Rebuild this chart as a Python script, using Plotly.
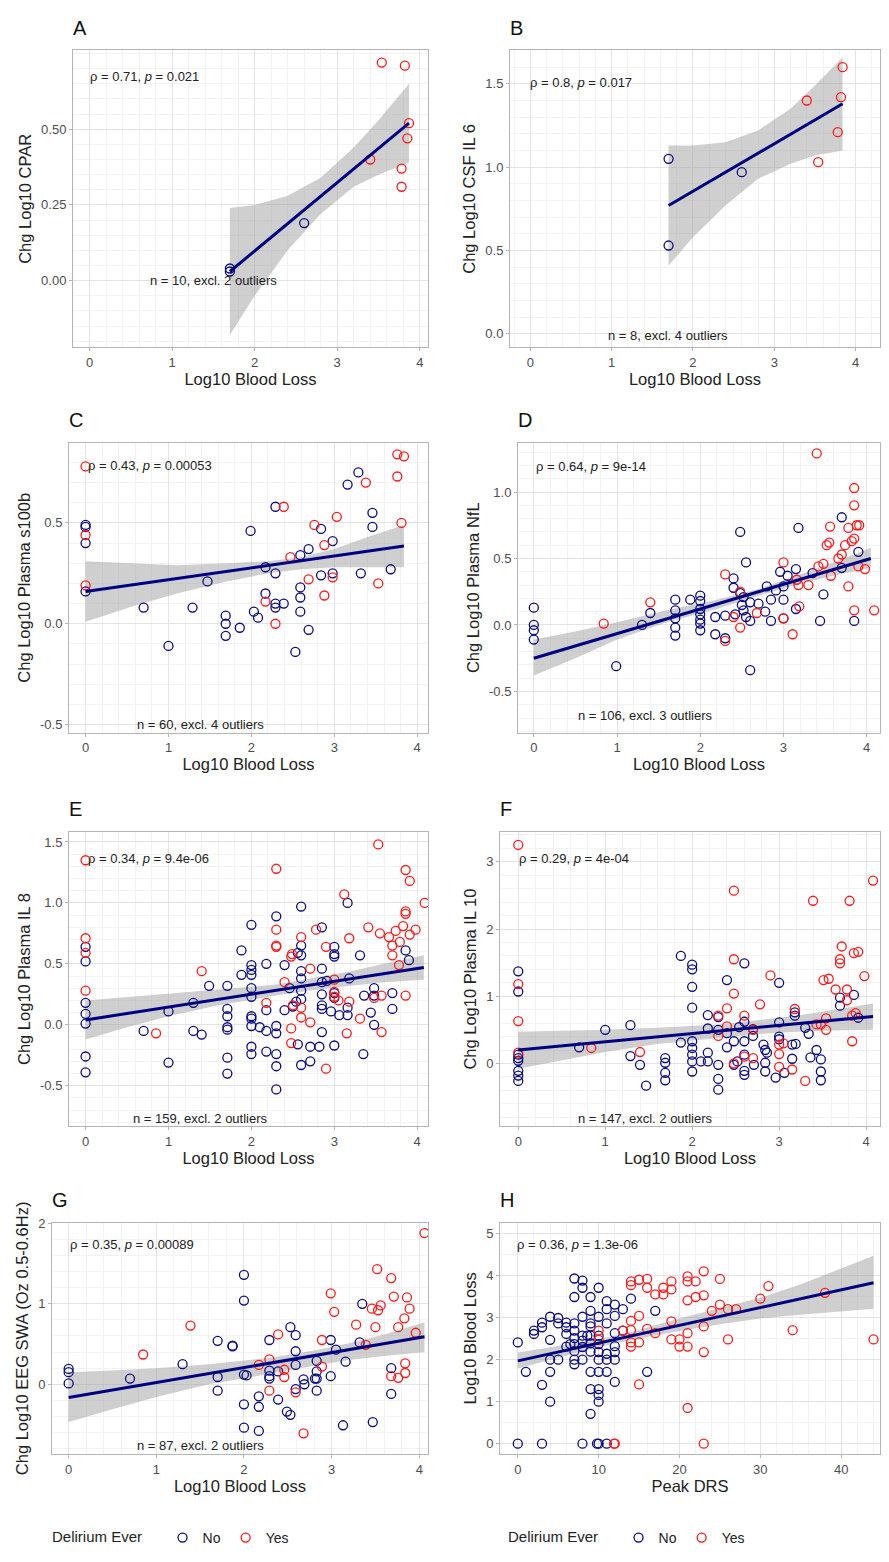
import plotly.graph_objects as go

W, H = 889, 1562
OFF = 8  # default page margin around the plot
FW, FH = W - 2 * OFF, H - 2 * OFF
NAVY = "#0b0b80"
RED = "#ff1a1a"

# ---------- data ----------
# A: Chg Log10 CPAR
a_no_x = [1.7, 1.7, 2.6]
a_no_y = [0.03, 0.04, 0.19]
a_yes_x = [3.4, 3.54, 3.82, 3.78, 3.78, 3.87, 3.85]
a_yes_y = [0.40, 0.72, 0.71, 0.37, 0.31, 0.52, 0.47]
a_band_x = [1.7, 2.0, 2.4, 2.8, 3.2, 3.5, 3.87]
a_band_lo = [-0.18, -0.05, 0.10, 0.22, 0.31, 0.35, 0.39]
a_band_hi = [0.24, 0.25, 0.28, 0.34, 0.44, 0.53, 0.65]
a_fit_x = [1.7, 3.87]
a_fit_y = [0.03, 0.52]

# B: Chg Log10 CSF IL 6
b_no_x = [1.7, 1.7, 2.6]
b_no_y = [1.05, 0.53, 0.97]
b_yes_x = [3.4, 3.54, 3.78, 3.82, 3.84]
b_yes_y = [1.40, 1.03, 1.21, 1.42, 1.60]
b_band_x = [1.7, 2.0, 2.4, 2.8, 3.2, 3.5, 3.84]
b_band_lo = [0.41, 0.58, 0.77, 0.93, 1.02, 1.07, 1.10]
b_band_hi = [1.13, 1.13, 1.15, 1.22, 1.35, 1.49, 1.66]
b_fit_x = [1.7, 3.84]
b_fit_y = [0.77, 1.38]

# C: Chg Log10 Plasma s100b
c_no_x = [0, 0, 0, 0, 0.7, 1.0, 1.29, 1.47, 1.69, 1.69, 1.69, 1.86, 1.99, 2.03, 2.08, 2.17, 2.17,
          2.29, 2.29, 2.29, 2.29, 2.39, 2.53, 2.59, 2.59, 2.59, 2.59, 2.69, 2.69, 2.84, 2.84, 2.98,
          2.98, 3.16, 3.29, 3.32, 3.46, 3.46, 3.68]
c_no_y = [0.49, 0.48, 0.40, 0.16, 0.08, -0.11, 0.08, 0.21, 0.04, 0.0, -0.06, -0.02, 0.46, 0.06, 0.03,
          0.28, 0.15, 0.58, 0.25, 0.10, 0.08, 0.10, -0.14, 0.34, 0.18, 0.13, 0.06, 0.37, -0.03, 0.24,
          0.47, 0.41, 0.25, 0.69, 0.75, 0.25, 0.55, 0.48, 0.27]
c_yes_x = [0, 0, 0, 2.17, 2.29, 2.39, 2.47, 2.69, 2.76, 2.88, 2.88, 2.98, 3.03, 3.38, 3.53, 3.76, 3.84,
           3.76, 3.81]
c_yes_y = [0.78, 0.44, 0.19, 0.11, 0.0, 0.58, 0.33, 0.22, 0.49, 0.39, 0.14, 0.23, 0.53, 0.70, 0.20,
           0.84, 0.83, 0.73, 0.50]
c_band_x = [0, 0.6, 1.1, 1.7, 2.2, 2.6, 3.0, 3.4, 3.84]
c_band_lo = [0.01, 0.09, 0.15, 0.21, 0.25, 0.27, 0.28, 0.28, 0.28]
c_band_hi = [0.31, 0.30, 0.29, 0.30, 0.31, 0.33, 0.37, 0.43, 0.49]
c_fit_x = [0, 3.84]
c_fit_y = [0.16, 0.385]

# D: Chg Log10 Plasma NfL
d_no_x = [0, 0, 0, 0, 0.99, 1.3, 1.4, 1.7, 1.7, 1.7, 1.7, 1.7, 1.88, 2.0, 2.0, 2.0, 2.0, 2.0, 2.0, 2.0,
          2.18, 2.18, 2.3, 2.3, 2.4, 2.4, 2.48, 2.48, 2.5, 2.52, 2.55, 2.55, 2.6, 2.6, 2.6, 2.7, 2.78,
          2.8, 2.85, 2.85, 2.91, 2.96, 3.0, 3.0, 3.0, 3.05, 3.15, 3.15, 3.18, 3.35, 3.44, 3.48, 3.7,
          3.7, 3.85, 3.9, 2.52, 2.42]
d_no_y = [0.13, 0.0, -0.04, -0.11, -0.31, 0.0, 0.09, 0.19, 0.11, 0.05, -0.02, -0.08, 0.19, 0.22, 0.18,
          0.12, 0.08, 0.04, 0.01, -0.04, 0.06, -0.07, 0.07, -0.10, 0.35, 0.28, 0.70, 0.24, 0.15, 0.11,
          0.47, 0.06, 0.17, 0.03, -0.34, 0.16, 0.10, 0.29, 0.19, 0.03, 0.26, 0.40, 0.19, 0.05, 0.29,
          0.37, 0.42, 0.12, 0.73, 0.39, 0.03, 0.23, 0.81, 0.43, 0.03, 0.55, 0.21, 0.08]
d_yes_x = [0.84, 1.4, 2.3, 2.3, 2.4, 2.48, 2.48, 2.68, 3.0, 3.0, 3.11, 3.16, 3.18, 3.19, 3.3, 3.4, 3.42,
           3.48, 3.56, 3.52, 3.55, 3.57, 3.66, 3.7, 3.74, 3.78, 3.78, 3.82, 3.85, 3.85, 3.85, 3.85,
           3.88, 3.91, 3.9, 3.98, 4.09]
d_yes_y = [0.01, 0.17, 0.38, -0.12, 0.06, 0.25, -0.02, 0.09, 0.47, 0.05, -0.07, 0.34, 0.30, 0.14, 0.30,
           1.29, 0.44, 0.46, 0.74, 0.60, 0.62, 0.37, 0.50, 0.53, 0.60, 0.73, 0.29, 0.63, 0.65, 0.90,
           1.03, 0.11, 0.75, 0.75, 0.44, 0.42, 0.11]
d_band_x = [0, 0.5, 1.0, 1.6, 2.2, 2.7, 3.2, 3.6, 4.05]
d_band_lo = [-0.38, -0.25, -0.11, 0.02, 0.12, 0.22, 0.31, 0.37, 0.43]
d_band_hi = [-0.11, -0.05, 0.02, 0.11, 0.19, 0.27, 0.38, 0.47, 0.58]
d_fit_x = [0, 4.05]
d_fit_y = [-0.25, 0.50]

# E: Chg Log10 Plasma IL 8
e_no_x = [0, 0, 0, 0, 0, 0, 0, 0.7, 1.0, 1.0, 1.3, 1.3, 1.4, 1.49, 1.71, 1.71, 1.71, 1.71, 1.71, 1.71,
          1.71, 1.88, 1.88, 2.0, 2.0, 2.0, 2.0, 2.0, 2.0, 2.0, 2.0, 2.0, 2.0, 2.0, 2.1, 2.18, 2.18, 2.18,
          2.18, 2.3, 2.3, 2.3, 2.3, 2.3, 2.3, 2.4, 2.4, 2.46, 2.5, 2.54, 2.56, 2.56, 2.6, 2.6, 2.6, 2.6,
          2.6, 2.6, 2.6, 2.6, 2.71, 2.71, 2.82, 2.85, 2.85, 2.85, 2.85, 2.85, 2.85, 2.85, 2.91, 2.96,
          3.0, 3.0, 3.0, 3.0, 3.0, 3.0, 3.06, 3.16, 3.18, 3.16, 3.16, 3.31, 3.35, 3.36, 3.44, 3.48, 3.48,
          3.48, 3.7, 3.7, 3.86, 3.9]
e_no_y = [0.64, 0.52, 0.18, 0.09, 0.01, -0.26, -0.39, -0.05, 0.11, -0.31, 0.18, -0.05, -0.08, 0.32,
          0.32, 0.13, 0.07, -0.02, -0.04, -0.27, -0.40, 0.61, 0.41, 0.49, 0.45, 0.41, 0.30, 0.23, 0.07,
          0.05, -0.01, -0.18, -0.24, 0.82, -0.02, 0.50, 0.12, -0.05, -0.22, 0.89, -0.01, -0.07, -0.24,
          -0.34, -0.53, 0.49, 0.12, 0.30, 0.15, 0.19, 0.59, -0.16, 0.97, 0.65, 0.57, 0.44, 0.38, 0.28,
          0.21, -0.33, -0.18, -0.30, -0.18, 0.80, 0.46, 0.35, 0.25, 0.16, 0.13, -0.06, 0.36, 0.11, 0.64,
          0.58, 0.56, 0.26, 0.22, -0.17, 0.08, 1.0, 0.38, 0.14, 0.08, 0.57, -0.24, 0.24, 0.10, 0.30,
          0.24, 0.0, 0.26, 0.13, 0.61, 0.53]
e_yes_x = [0, 0, 0, 0, 0.85, 1.4, 2.18, 2.3, 2.3, 2.3, 2.3, 2.4, 2.48, 2.49, 2.48, 2.48, 2.5, 2.6, 2.6,
           2.6, 2.71, 2.71, 2.78, 2.9, 2.9, 3.0, 3.0, 3.0, 3.05, 3.12, 3.15, 3.18, 3.18, 3.31, 3.41,
           3.48, 3.55, 3.53, 3.57, 3.57, 3.66, 3.7, 3.7, 3.74, 3.79, 3.78, 3.83, 3.86, 3.86, 3.86,
           3.86, 3.91, 3.91, 3.98, 4.09]
e_yes_y = [1.35, 0.71, 0.59, 0.28, -0.07, 0.44, 0.18, 1.28, 0.78, 0.65, 0.64, 0.35, 0.56, 0.58, -0.03,
           -0.15, 0.16, 0.72, 0.14, 0.06, 0.02, 0.46, 0.78, 0.64, -0.36, 0.37, 0.27, 0.23, 0.20, 1.07,
           -0.07, 0.71, 0.19, 0.05, 0.80, 0.22, 0.75, 1.48, 0.24, -0.06, 0.72, 0.65, 0.57, 0.77, 0.68,
           0.49, 0.81, 0.93, 0.91, 1.27, 0.24, 1.18, 0.74, 0.78, 1.0]
e_band_x = [0, 0.5, 1.0, 1.6, 2.3, 2.8, 3.2, 3.6, 4.08]
e_band_lo = [-0.12, -0.02, 0.07, 0.16, 0.24, 0.29, 0.32, 0.35, 0.37]
e_band_hi = [0.20, 0.23, 0.26, 0.29, 0.33, 0.39, 0.44, 0.50, 0.57]
e_fit_x = [0, 4.08]
e_fit_y = [0.04, 0.47]

# F: Chg Log10 Plasma IL 10
f_no_x = [0, 0, 0, 0, 0, 0, 0, 0, 0.7, 1.0, 1.29, 1.29, 1.4, 1.47, 1.69, 1.69, 1.69, 1.69, 1.87, 1.87,
          2.0, 2.0, 2.0, 2.0, 2.0, 2.0, 2.0, 2.0, 2.0, 2.1, 2.18, 2.18, 2.18, 2.18, 2.3, 2.3, 2.3, 2.3,
          2.3, 2.4, 2.4, 2.4, 2.48, 2.48, 2.52, 2.54, 2.6, 2.6, 2.6, 2.6, 2.6, 2.6, 2.7, 2.7, 2.71,
          2.82, 2.84, 2.84, 2.84, 2.86, 2.96, 3.0, 3.0, 3.0, 3.0, 3.06, 3.15, 3.15, 3.18, 3.18, 3.19,
          3.3, 3.34, 3.36, 3.43, 3.48, 3.48, 3.48, 3.7, 3.7, 3.86, 3.91]
f_no_y = [1.37, 1.07, 0.08, 0.13, 0.04, -0.11, -0.18, -0.26, 0.24, 0.5, 0.57, 0.11, -0.02, -0.33, 0.08,
          0.01, -0.14, -0.25, 0.31, 1.6, 1.47, 1.40, 1.14, 0.83, 0.33, 0.23, 0.13, 0.03, -0.12, 0.03,
          0.72, 0.52, 0.16, 0.03, 0.69, 0.50, -0.02, -0.23, -0.39, 1.24, 0.45, 0.24, 0.33, -0.02, 0.03,
          0.54, 1.49, 0.62, 0.33, 0.13, -0.11, -0.17, 0.51, 0.41, -0.02, 0.28, 0.2, 0.01, -0.12, 0.16,
          -0.21, 1.2, 0.61, 0.4, 0.36, -0.14, 0.28, 0.07, 0.76, 0.71, 0.29, 0.53, 0.44, 0.09, 0.2,
          0.06, -0.12, -0.25, 0.98, 0.86, 1.02, 0.68]
f_yes_x = [0, 0, 0, 0, 0.84, 1.4, 2.3, 2.3, 2.4, 2.4, 2.48, 2.48, 2.48, 2.48, 2.6, 2.6, 2.7, 2.7, 2.78,
           2.9, 3.0, 3.0, 3.0, 3.05, 3.15, 3.18, 3.3, 3.39, 3.43, 3.48, 3.54, 3.54, 3.51, 3.57, 3.65,
           3.7, 3.7, 3.72, 3.78, 3.78, 3.81, 3.84, 3.84, 3.88, 3.86, 3.91, 3.98, 4.08]
f_yes_y = [3.25, 1.18, 0.63, 0.16, 0.23, 0.17, 0.71, 0.41, 0.82, 0.55, 2.57, 1.55, 1.04, 0.0, 0.71, 0.1,
           0.5, 0.08, 0.88, 1.31, 0.28, 0.14, -0.05, 0.3, -0.09, 0.81, -0.26, 2.42, 0.58, 0.58, 0.5,
           0.67, 1.24, 1.26, 1.1, 1.55, 1.49, 1.74, 1.1, 0.94, 2.42, 0.33, 0.71, 0.75, 1.64, 1.66, 1.3,
           2.72]
f_band_x = [0, 0.5, 1.0, 1.6, 2.3, 2.8, 3.2, 3.6, 4.08]
f_band_lo = [-0.08, 0.05, 0.17, 0.29, 0.38, 0.44, 0.47, 0.49, 0.50]
f_band_hi = [0.47, 0.48, 0.50, 0.53, 0.58, 0.65, 0.71, 0.79, 0.89]
f_fit_x = [0, 4.08]
f_fit_y = [0.2, 0.70]

# G: Chg Log10 EEG SWA (Oz 0.5-0.6Hz)
g_no_x = [0, 0, 0, 0.7, 1.3, 1.7, 1.7, 1.7, 1.87, 1.87, 2.0, 2.0, 2.0, 2.03, 2.0, 2.0, 2.17, 2.17, 2.17,
          2.29, 2.29, 2.29, 2.29, 2.39, 2.39, 2.49, 2.53, 2.53, 2.59, 2.59, 2.59, 2.59, 2.68, 2.69,
          2.81, 2.83, 2.83, 2.83, 2.83, 2.99, 2.99, 3.05, 3.13, 3.16, 3.32, 3.35, 3.47, 3.68, 3.68]
g_no_y = [0.19, 0.15, 0.01, 0.07, 0.25, 0.54, 0.09, -0.08, 0.48, 0.47, 1.36, 1.04, 0.12, 0.11, -0.25,
          -0.54, -0.15, -0.28, -0.58, 0.55, 0.17, 0.10, 0.07, 0.16, -0.19, -0.34, -0.38, 0.71, 0.61,
          0.41, 0.24, -0.06, 0.06, 0.0, 0.07, 0.29, 0.16, 0.07, -0.08, 0.55, 0.10, 0.43, -0.51, 0.28,
          0.52, 1.0, -0.47, 0.2, -0.12]
g_yes_x = [0.85, 1.39, 2.17, 2.29, 2.29, 2.39, 2.46, 2.46, 2.59, 2.68, 2.89, 2.89, 2.99, 3.03, 3.28,
           3.39, 3.46, 3.5, 3.52, 3.53, 3.56, 3.68, 3.68, 3.71, 3.76, 3.76, 3.83, 3.84, 3.84, 3.86,
           3.89, 3.96, 4.06]
g_yes_y = [0.37, 0.73, 0.24, 0.31, -0.08, 0.62, 0.18, 0.09, -0.1, -0.61, 0.55, 0.22, 1.13, 0.9, 0.74,
           0.49, 0.94, 0.71, 1.43, 0.92, 0.98, 1.32, 0.1, 1.09, 0.71, 0.08, 0.82, 0.14, 0.26, 1.08,
           0.94, 0.64, 1.88]
g_band_x = [0, 0.5, 1.0, 1.6, 2.3, 2.8, 3.2, 3.6, 4.06]
g_band_lo = [-0.47, -0.31, -0.16, 0.0, 0.13, 0.23, 0.30, 0.35, 0.40]
g_band_hi = [0.15, 0.17, 0.20, 0.25, 0.33, 0.42, 0.51, 0.62, 0.77]
g_fit_x = [0, 4.06]
g_fit_y = [-0.165, 0.59]

# H: Log10 Blood Loss vs Peak DRS
h_no_x = [0, 0, 1, 2, 2, 3, 3, 3, 3, 4, 4, 4, 4, 4, 5, 5, 5, 6, 6, 6, 6, 7, 7, 7, 7, 7, 7, 7, 7, 7, 8, 8,
          8, 8, 8, 8, 8, 8, 9, 9, 9, 9, 9, 9, 9, 9, 9, 9, 10, 10, 10, 10, 10, 10, 10, 10, 10, 10, 10,
          9.8, 11, 11, 11, 11, 11, 11, 11, 12, 12, 12, 12, 12, 12, 12, 13, 13, 14, 16, 17, 8.6, 6.5]
h_no_y = [2.41, 0, 1.71, 2.69, 2.61, 2.88, 2.77, 0, 1.4, 3.02, 2.47, 2.0, 1.71, 1.0, 2.0, 2.99, 2.86,
          2.88, 2.77, 2.61, 2.31, 3.93, 3.49, 2.86, 2.69, 2.51, 2.37, 2.2, 2.0, 1.89, 3.88, 3.71, 3.02,
          2.57, 2.45, 2.3, 2.0, 0, 3.49, 3.16, 2.86, 2.79, 2.57, 2.39, 2.19, 1.71, 1.3, 0.71, 3.71,
          3.02, 2.57, 2.37, 2.18, 2.0, 1.71, 1.3, 1.16, 1.0, 0, 0, 3.39, 3.2, 2.86, 2.14, 2.0, 1.71, 0,
          3.31, 3.04, 2.63, 2.32, 2.18, 2.0, 1.47, 3.2, 2.69, 3.45, 1.71, 3.16, 2.57, 2.37]
h_yes_x = [10, 10, 12, 11.9, 13, 14, 14, 14, 14, 14, 14, 15, 15, 15, 15, 16, 16, 16, 17, 17, 18, 18, 19,
           19, 19, 19, 20, 20, 21, 21, 21, 21, 21, 21, 22, 22, 23, 23, 23, 23, 23, 24, 25, 25, 26, 26,
           27, 30, 31, 34, 38, 44]
h_yes_y = [2.69, 2.47, 0, 0, 2.69, 3.86, 3.77, 2.92, 2.7, 2.41, 2.31, 3.9, 3.04, 2.41, 1.41, 3.92, 3.71,
           2.73, 3.55, 2.63, 3.71, 3.55, 3.86, 3.67, 2.91, 2.48, 2.48, 2.31, 3.98, 3.86, 3.41, 2.63,
           2.31, 0.85, 3.86, 3.49, 4.1, 3.53, 2.79, 2.18, 0, 3.16, 3.92, 3.31, 3.2, 2.48, 3.2, 3.45,
           3.75, 2.7, 3.59, 2.48]
h_band_x = [0, 5, 10, 15, 20, 25, 30, 35, 40, 44]
h_band_lo = [1.79, 2.05, 2.30, 2.50, 2.68, 2.84, 2.98, 3.07, 3.15, 3.21]
h_band_hi = [2.17, 2.32, 2.48, 2.71, 2.98, 3.23, 3.47, 3.79, 4.17, 4.47]
h_fit_x = [0, 44]
h_fit_y = [1.97, 3.83]

# ---------- panels: pixel box (x0,x1,y0,y1) in the final page ----------
panels = [
    ("A", (a_no_x, a_no_y), (a_yes_x, a_yes_y), (a_band_x, a_band_lo, a_band_hi), (a_fit_x, a_fit_y),
     (73, 428, 44, 345), [-0.2, 4.1], [-0.22, 0.76], ([0, 0.25, 0.5], ["0.00", "0.25", "0.50"]),
     "Chg Log10 CPAR", "Log10 Blood Loss", "ρ = 0.71, <i>p</i> = 0.021", (88, 70),
     "n = 10, excl. 2 outliers", (213, 277)),
    ("B", (b_no_x, b_no_y), (b_yes_x, b_yes_y), (b_band_x, b_band_lo, b_band_hi), (b_fit_x, b_fit_y),
     (510, 880, 44, 345), [-0.25, 4.3], [-0.08, 1.70], ([0, 0.5, 1, 1.5], ["0.0", "0.5", "1.0", "1.5"]),
     "Chg Log10 CSF IL 6", "Log10 Blood Loss", "ρ = 0.8, <i>p</i> = 0.017", (528, 76),
     "n = 8, excl. 4 outliers", (668, 333)),
    ("C", (c_no_x, c_no_y), (c_yes_x, c_yes_y), (c_band_x, c_band_lo, c_band_hi), (c_fit_x, c_fit_y),
     (69, 428, 442, 736), [-0.2, 4.13], [-0.54, 0.897], ([-0.5, 0, 0.5], ["-0.5", "0.0", "0.5"]),
     "Chg Log10 Plasma s100b", "Log10 Blood Loss", "ρ = 0.43, <i>p</i> = 0.00053", (86, 465),
     "n = 60, excl. 4 outliers", (200, 728)),
    ("D", (d_no_x, d_no_y), (d_yes_x, d_yes_y), (d_band_x, d_band_lo, d_band_hi), (d_fit_x, d_fit_y),
     (518, 880, 442, 736), [-0.19, 4.16], [-0.81, 1.37],
     ([-0.5, 0, 0.5, 1.0], ["-0.5", "0.0", "0.5", "1.0"]),
     "Chg Log10 Plasma NfL", "Log10 Blood Loss", "ρ = 0.64, <i>p</i> = 9e-14", (534, 466),
     "n = 106, excl. 3 outliers", (645, 719)),
    ("E", (e_no_x, e_no_y), (e_yes_x, e_yes_y), (e_band_x, e_band_lo, e_band_hi), (e_fit_x, e_fit_y),
     (69, 428, 837, 1135), [-0.2, 4.13], [-0.83, 1.58],
     ([-0.5, 0, 0.5, 1.0, 1.5], ["-0.5", "0.0", "0.5", "1.0", "1.5"]),
     "Chg Log10 Plasma IL 8", "Log10 Blood Loss", "ρ = 0.34, <i>p</i> = 9.4e-06", (86, 864),
     "n = 159, excl. 2 outliers", (200, 1127)),
    ("F", (f_no_x, f_no_y), (f_yes_x, f_yes_y), (f_band_x, f_band_lo, f_band_hi), (f_fit_x, f_fit_y),
     (500, 880, 837, 1135), [-0.21, 4.16], [-0.93, 3.44], ([0, 1, 2, 3], ["0", "1", "2", "3"]),
     "Chg Log10 Plasma IL 10", "Log10 Blood Loss", "ρ = 0.29, <i>p</i> = 4e-04", (517, 864),
     "n = 147, excl. 2 outliers", (645, 1127)),
    ("G", (g_no_x, g_no_y), (g_yes_x, g_yes_y), (g_band_x, g_band_lo, g_band_hi), (g_fit_x, g_fit_y),
     (52, 428, 1233, 1468), [-0.19, 4.1], [-0.87, 2.01], ([0, 1, 2], ["0", "1", "2"]),
     "Chg Log10 EEG SWA (Oz 0.5-0.6Hz)", "Log10 Blood Loss", "ρ = 0.35, <i>p</i> = 0.00089", (68, 1255),
     "n = 87, excl. 2 outliers", (200, 1459)),
    ("H", (h_no_x, h_no_y), (h_yes_x, h_yes_y), (h_band_x, h_band_lo, h_band_hi), (h_fit_x, h_fit_y),
     (500, 880, 1233, 1468), [-2.2, 44.8], [-0.25, 5.26],
     ([0, 1, 2, 3, 4, 5], ["0", "1", "2", "3", "4", "5"]),
     "Log10 Blood Loss", "Peak DRS", "ρ = 0.36, <i>p</i> = 1.3e-06", (515, 1255), None, None),
]

fig = go.Figure()
annotations = []


def px(x):
    return (x - OFF) / FW


def py(y):
    return 1 - (y - OFF) / FH


for i, (letter, no, yes, band, fit, box, xr, yr, yt, ytitle, xtitle, rho, rho_pos, ntext, npos) in enumerate(panels):
    k = "" if i == 0 else str(i + 1)
    xa, ya = "x" + k, "y" + k
    bx, blo, bhi = band
    fig.add_trace(go.Scatter(x=bx + bx[::-1], y=bhi + blo[::-1], mode="lines", fill="toself",
                             fillcolor="rgba(160,160,160,0.5)", line=dict(width=0),
                             hoverinfo="skip", showlegend=False, xaxis=xa, yaxis=ya))
    leg = "legend" if letter == "G" else ("legend2" if letter == "H" else None)
    for (sx, sy), name, col in [(no, "No", NAVY), (yes, "Yes", RED)]:
        fig.add_trace(go.Scatter(x=sx, y=sy, mode="markers", name=name,
                                 marker=dict(symbol="circle-open", size=9, color=col, line=dict(width=1.3)),
                                 showlegend=leg is not None, legend=leg or "legend",
                                 xaxis=xa, yaxis=ya))
    fig.add_trace(go.Scatter(x=fit[0], y=fit[1], mode="lines", line=dict(color="#000080", width=3),
                             showlegend=False, xaxis=xa, yaxis=ya))

    x0, x1, y0, y1 = box
    axis_common = dict(showgrid=True, gridcolor="#e3e3e3", gridwidth=1, zeroline=False,
                       showline=True, linecolor="#b5b5b5", mirror=True, ticks="outside",
                       ticklen=3, tickcolor="#b5b5b5", tickfont=dict(size=13, color="#4d4d4d"),
                       minor=dict(showgrid=True, gridcolor="#f2f2f2"))
    xtv = [0, 10, 20, 30, 40] if letter == "H" else [0, 1, 2, 3, 4]
    fig.layout["xaxis" + k] = dict(axis_common, domain=[px(x0), px(x1)], range=xr, anchor=ya,
                                   tickvals=xtv, title=dict(text=xtitle, font=dict(size=16.5, color="#222"),
                                                            standoff=3))
    fig.layout["yaxis" + k] = dict(axis_common, domain=[py(y1), py(y0)], range=yr, anchor=xa,
                                   tickvals=yt[0], ticktext=yt[1],
                                   title=dict(text=ytitle, font=dict(size=16.5, color="#222"), standoff=5))
    annotations.append(dict(text=letter, x=px(x0 - 2), y=py(y0 - 10), xref="paper", yref="paper",
                            xanchor="left", yanchor="bottom", showarrow=False,
                            font=dict(size=20, color="#111")))
    annotations.append(dict(text=rho, x=px(rho_pos[0]), y=py(rho_pos[1]), xref="paper", yref="paper",
                            xanchor="left", yanchor="middle", showarrow=False,
                            font=dict(size=13, color="#222")))
    if ntext:
        annotations.append(dict(text=ntext, x=px(npos[0]), y=py(npos[1]), xref="paper", yref="paper",
                                xanchor="center", yanchor="middle", showarrow=False,
                                font=dict(size=13, color="#222")))

legend_style = dict(orientation="h", yanchor="middle", xanchor="center", y=py(1553),
                    font=dict(size=14, color="#222"), title=dict(text="Delirium Ever   ", font=dict(size=15)),
                    bgcolor="rgba(0,0,0,0)", itemwidth=30)
fig.update_layout(
    width=FW, height=FH, margin=dict(l=0, r=0, t=0, b=0),
    plot_bgcolor="white", paper_bgcolor="white",
    font=dict(family="Liberation Sans, Arial, sans-serif"),
    annotations=annotations,
    legend=dict(legend_style, x=px(172)),
    legend2=dict(legend_style, x=px(628)),
)

fig.write_html("out.html")
